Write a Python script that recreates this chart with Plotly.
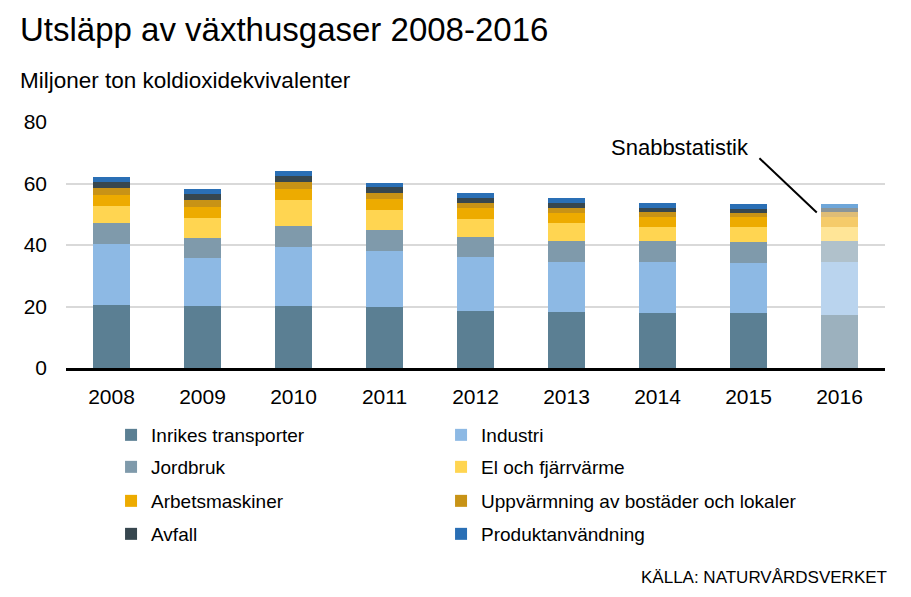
import plotly.graph_objects as go

years = ["2008", "2009", "2010", "2011", "2012", "2013", "2014", "2015", "2016"]

inrikes_transporter = [20.4, 20.1, 20.1, 19.8, 18.5, 18.1, 17.8, 17.8, 17.1]
industri = [19.9, 15.6, 19.2, 18.2, 17.6, 16.3, 16.6, 16.2, 17.3]
jordbruk = [6.8, 6.5, 6.9, 6.9, 6.5, 6.9, 6.8, 6.9, 6.8]
el_fjarrvarme = [5.6, 6.6, 8.4, 6.5, 5.8, 5.8, 4.6, 4.9, 4.6]
arbetsmaskiner = [3.6, 3.5, 3.6, 3.6, 3.6, 3.3, 3.2, 3.2, 3.2]
uppvarmning = [2.2, 2.3, 2.3, 1.9, 1.6, 1.6, 1.7, 1.4, 1.7]
avfall = [2.0, 1.9, 2.0, 2.0, 1.7, 1.6, 1.3, 1.3, 1.3]
produktanvandning = [1.6, 1.7, 1.6, 1.3, 1.6, 1.7, 1.6, 1.6, 1.3]

series = [
    ("Inrikes transporter", inrikes_transporter, "#5b7f93", "#9cb1be"),
    ("Industri", industri, "#8db9e4", "#bad4ee"),
    ("Jordbruk", jordbruk, "#7f9aab", "#b0c1cb"),
    ("El och fjärrvärme", el_fjarrvarme, "#ffd551", "#ffe597"),
    ("Arbetsmaskiner", arbetsmaskiner, "#edab00", "#f5cb6a"),
    ("Uppvärmning av bostäder och lokaler", uppvarmning, "#c89316", "#dfbd76"),
    ("Avfall", avfall, "#37474f", "#8a9599"),
    ("Produktanvändning", produktanvandning, "#2a6fb5", "#6ea6d9"),
]

FONT = "Liberation Sans, Arial, sans-serif"
OFF = 8  # page body margin


def px_to_paper_y(py):
    return (368 - py) / 246.0


row_px = [435, 467, 501, 534]
col_x = [0.055, 0.055 + 330 / 819]

fig = go.Figure()
legends = {}
for i, (name, vals, col, light) in enumerate(series):
    colors = [col] * (len(years) - 1) + [light]
    key = "legend" if i == 0 else f"legend{i + 1}"
    fig.add_trace(go.Bar(
        x=years, y=vals, name=name,
        marker=dict(color=colors, line=dict(width=0)),
        legend=key, showlegend=True,
    ))
    legends[key] = dict(
        x=col_x[i % 2], y=px_to_paper_y(row_px[i // 2]),
        xanchor="left", yanchor="middle",
        font=dict(family=FONT, size=19, color="#000000"),
        bgcolor="rgba(0,0,0,0)",
        itemclick=False, itemdoubleclick=False,
    )

W, H = 911 - OFF, 597 - OFF

fig.update_layout(
    width=W, height=H,
    showlegend=True,
    margin=dict(l=66 - OFF, r=26, t=122 - OFF, b=229, pad=0),
    paper_bgcolor="white", plot_bgcolor="white",
    barmode="stack", bargap=0.59,
    font=dict(family=FONT, color="#000000"),
    title=dict(
        text="Utsläpp av växthusgaser 2008-2016",
        x=(20 - OFF) / W, xanchor="left", xref="container",
        y=1 - (29 - OFF) / H, yanchor="middle", yref="container",
        font=dict(family=FONT, size=33, color="#000000"),
    ),
    xaxis=dict(
        type="category", showgrid=False,
        showline=True, linecolor="#000000", linewidth=3,
        ticks="", tickfont=dict(family=FONT, size=21, color="#000000"),
        ticklabelstandoff=8,
    ),
    yaxis=dict(
        range=[0, 80], tickvals=[0, 20, 40, 60, 80],
        showgrid=True, gridcolor="#d9d9d9", gridwidth=2,
        zeroline=False, showline=False, ticks="",
        tickfont=dict(family=FONT, size=21, color="#000000"),
        ticklabelstandoff=18,
    ),
    annotations=[
        dict(text="Miljoner ton koldioxidekvivalenter", xref="paper", yref="paper",
             x=(18 - 66) / 819, y=px_to_paper_y(80), xanchor="left", yanchor="middle",
             showarrow=False, font=dict(family=FONT, size=22.5, color="#000000")),
        dict(text="KÄLLA: NATURVÅRDSVERKET", xref="paper", yref="paper",
             x=(889 - 66) / 819, y=px_to_paper_y(577), xanchor="right", yanchor="middle",
             showarrow=False, font=dict(family=FONT, size=17, color="#000000")),
        dict(text="Snabbstatistik", xref="x", yref="y",
             x=6.25, y=71.8, xanchor="center", yanchor="middle",
             showarrow=False, font=dict(family=FONT, size=22, color="#000000")),
    ],
    shapes=[
        dict(type="line", xref="x", yref="y", x0=7.12, y0=68.2, x1=7.75, y1=50.6,
             line=dict(color="#000000", width=2)),
    ],
    **legends,
)

fig.write_html("out.html")
